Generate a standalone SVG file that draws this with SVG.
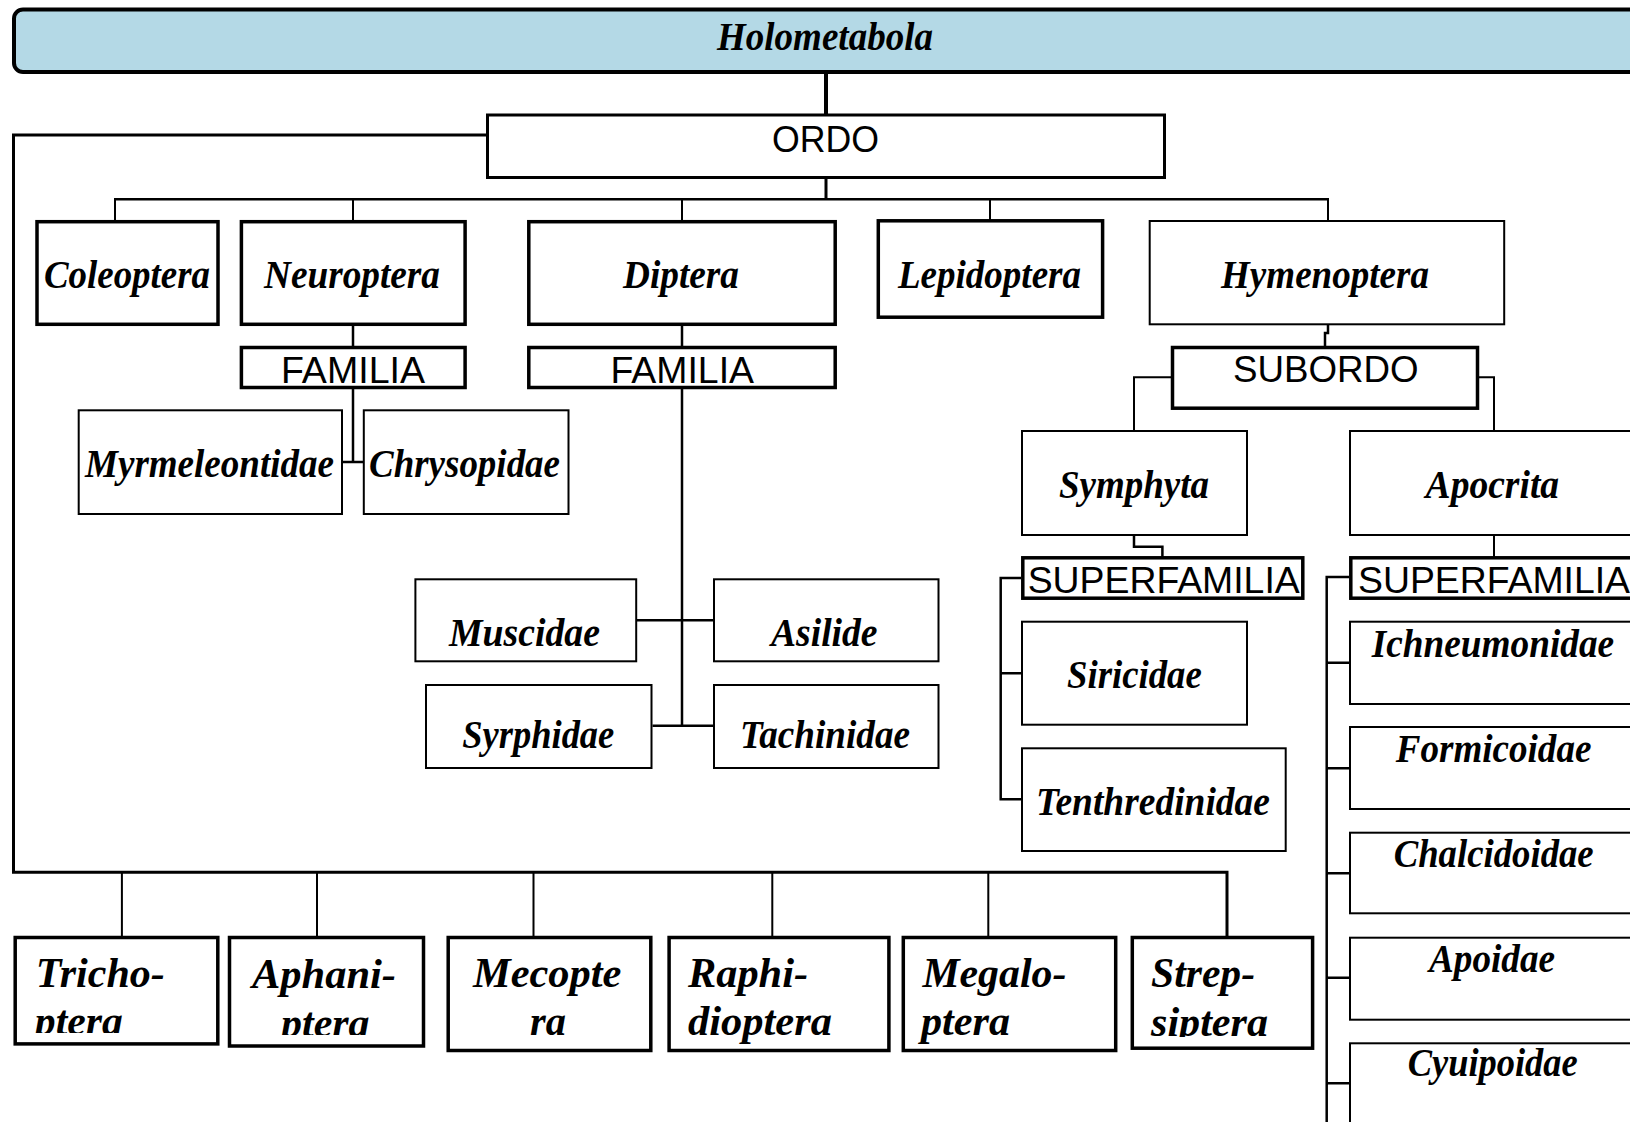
<svg xmlns="http://www.w3.org/2000/svg" width="1630" height="1122" viewBox="0 0 1630 1122">
<style>
.thick{fill:#fff;stroke:#000;stroke-width:3.5}
.mid{fill:#fff;stroke:#000;stroke-width:3}
.thin{fill:#fff;stroke:#000;stroke-width:2}
.lbl{font-family:"Liberation Serif","Times New Roman",serif;font-weight:bold;font-style:italic;font-size:39px;fill:#000}
.big{font-size:42px}
.sans{font-family:"Liberation Sans",Arial,sans-serif;font-size:36px;fill:#000}
.conn{fill:none;stroke:#000;stroke-width:2.5}
.cthin{fill:none;stroke:#000;stroke-width:2}
</style>
<defs>
<clipPath id="clipTricho"><rect x="15" y="937" width="203" height="96"/></clipPath>
<clipPath id="clipAphani"><rect x="229" y="937" width="194" height="98"/></clipPath>
<clipPath id="clipStrep"><rect x="1132" y="937" width="180" height="100"/></clipPath>
</defs>

<g id="connectors">
<line x1="826" y1="72" x2="826" y2="115" stroke="#000" stroke-width="4"/>
<line x1="826" y1="178" x2="826" y2="200" stroke="#000" stroke-width="3"/>
<line x1="114" y1="199.3" x2="1329" y2="199.3" class="conn"/>
<path class="cthin" d="M115,199 V221 M353,199 V221 M682,199 V221 M990,199 V221 M1328,199 V221"/>
<path class="conn" d="M353,325 V347 M353,389 V462 M343,462 H363"/>
<path class="conn" d="M682,325 V347 M682,389 V725.7 M637,620.3 H713 M652.5,725.7 H713"/>
<path class="conn" d="M1328,324 V333 H1325 V347"/>
<path class="cthin" d="M1171,377.3 H1134 V431 M1479,377.3 H1494 V431"/>
<path class="conn" d="M1134,535 V546.7 H1162.4 V557"/>
<path class="cthin" d="M1494,535 V557"/>
<path class="conn" d="M1021,578 H1000.7 V799.3 H1022 M1000.7,673.3 H1022"/>
<path class="conn" d="M1349,577 H1326.7 V1130 M1326.7,662.7 H1350 M1326.7,768.3 H1350 M1326.7,873.3 H1350 M1326.7,977.7 H1350 M1326.7,1083.3 H1350"/>
<path class="mid" style="fill:none" d="M487,135 H13.5 V872.3 H1227 V937"/>
<path class="cthin" d="M121.9,872 V937 M317,872 V937 M533.5,872 V937 M772.3,872 V937 M988.3,872 V937"/>
</g>

<g id="holometabola">
<rect x="14" y="9.5" width="1650" height="62.5" rx="9" fill="#b4d9e6" stroke="#000" stroke-width="4"/>
<text class="lbl" x="717" y="50" font-size="37" textLength="216" lengthAdjust="spacingAndGlyphs">Holometabola</text>
</g>

<g id="ordo">
<rect class="mid" x="487.5" y="115" width="677" height="62.5"/>
<text class="sans" x="772" y="152" font-size="35" textLength="107" lengthAdjust="spacingAndGlyphs">ORDO</text>
</g>

<g id="coleoptera">
<rect class="thick" x="37" y="221.7" width="181" height="102.6"/>
<text class="lbl" x="44" y="288" textLength="166" lengthAdjust="spacingAndGlyphs">Coleoptera</text>
</g>
<g id="neuroptera">
<rect class="thick" x="241.4" y="221.7" width="223.7" height="102.6"/>
<text class="lbl" x="264" y="288" textLength="176" lengthAdjust="spacingAndGlyphs">Neuroptera</text>
</g>
<g id="diptera">
<rect class="thick" x="528.8" y="221.7" width="306.4" height="102.6"/>
<text class="lbl" x="623" y="288" textLength="116" lengthAdjust="spacingAndGlyphs">Diptera</text>
</g>
<g id="lepidoptera">
<rect class="thick" x="878.3" y="220.8" width="224.3" height="96.4"/>
<text class="lbl" x="898" y="288" textLength="183" lengthAdjust="spacingAndGlyphs">Lepidoptera</text>
</g>
<g id="hymenoptera">
<rect class="thin" x="1149.7" y="221" width="354.5" height="103.3"/>
<text class="lbl" x="1221" y="288" textLength="208" lengthAdjust="spacingAndGlyphs">Hymenoptera</text>
</g>

<g id="familia-neuroptera">
<rect class="thick" x="241.4" y="347.5" width="223.7" height="40"/>
<text class="sans" x="281" y="383.3" textLength="144" lengthAdjust="spacingAndGlyphs">FAMILIA</text>
</g>
<g id="familia-diptera">
<rect class="thick" x="528.8" y="347.5" width="306.4" height="40"/>
<text class="sans" x="610.5" y="383.3" textLength="143.5" lengthAdjust="spacingAndGlyphs">FAMILIA</text>
</g>

<g id="myrmeleontidae">
<rect class="thin" x="78.7" y="410.3" width="263.3" height="103.7"/>
<text class="lbl" x="85" y="476.7" textLength="249" lengthAdjust="spacingAndGlyphs">Myrmeleontidae</text>
</g>
<g id="chrysopidae">
<rect class="thin" x="363.8" y="410.3" width="204.7" height="103.7"/>
<text class="lbl" x="369" y="476.7" textLength="191" lengthAdjust="spacingAndGlyphs">Chrysopidae</text>
</g>

<g id="muscidae">
<rect class="thin" x="415.4" y="579.3" width="220.8" height="82"/>
<text class="lbl" x="449" y="646" textLength="151" lengthAdjust="spacingAndGlyphs">Muscidae</text>
</g>
<g id="asilide">
<rect class="thin" x="714" y="579.3" width="224.5" height="82"/>
<text class="lbl" x="771" y="646" textLength="106.5" lengthAdjust="spacingAndGlyphs">Asilide</text>
</g>
<g id="syrphidae">
<rect class="thin" x="426" y="685" width="225.5" height="83"/>
<text class="lbl" x="462.3" y="748.3" textLength="152" lengthAdjust="spacingAndGlyphs">Syrphidae</text>
</g>
<g id="tachinidae">
<rect class="thin" x="714" y="685" width="224.5" height="83"/>
<text class="lbl" x="740" y="748.3" textLength="170" lengthAdjust="spacingAndGlyphs">Tachinidae</text>
</g>

<g id="subordo">
<rect class="thick" x="1172.5" y="347.5" width="305" height="60.7"/>
<text class="sans" x="1233" y="381.7" textLength="185.5" lengthAdjust="spacingAndGlyphs">SUBORDO</text>
</g>

<g id="symphyta">
<rect class="thin" x="1022" y="431" width="225" height="104"/>
<text class="lbl" x="1059" y="497.7" textLength="150" lengthAdjust="spacingAndGlyphs">Symphyta</text>
</g>
<g id="apocrita">
<rect class="thin" x="1350" y="431" width="320" height="104"/>
<text class="lbl" x="1425.6" y="497.7" textLength="133.5" lengthAdjust="spacingAndGlyphs">Apocrita</text>
</g>

<g id="superfamilia-symphyta">
<rect class="thick" x="1022.8" y="557.8" width="280" height="40.4"/>
<text class="sans" x="1027.7" y="592.7" textLength="272" lengthAdjust="spacingAndGlyphs">SUPERFAMILIA</text>
</g>
<g id="superfamilia-apocrita">
<rect class="thick" x="1350.8" y="557.8" width="320" height="40.4"/>
<text class="sans" x="1358" y="592.7" textLength="272" lengthAdjust="spacingAndGlyphs">SUPERFAMILIA</text>
</g>

<g id="siricidae">
<rect class="thin" x="1022" y="621.7" width="225" height="103"/>
<text class="lbl" x="1067" y="688.3" textLength="134.7" lengthAdjust="spacingAndGlyphs">Siricidae</text>
</g>
<g id="tenthredinidae">
<rect class="thin" x="1022" y="748.3" width="263.7" height="102.7"/>
<text class="lbl" x="1036" y="815" textLength="234" lengthAdjust="spacingAndGlyphs">Tenthredinidae</text>
</g>

<g id="ichneumonidae">
<rect class="thin" x="1350" y="621.7" width="320" height="82.3"/>
<text class="lbl" x="1371.7" y="656.7" textLength="242.5" lengthAdjust="spacingAndGlyphs">Ichneumonidae</text>
</g>
<g id="formicoidae">
<rect class="thin" x="1350" y="727" width="320" height="82"/>
<text class="lbl" x="1395.7" y="762.3" textLength="195.7" lengthAdjust="spacingAndGlyphs">Formicoidae</text>
</g>
<g id="chalcidoidae">
<rect class="thin" x="1350" y="832.7" width="320" height="80.6"/>
<text class="lbl" x="1393.7" y="866.7" textLength="200" lengthAdjust="spacingAndGlyphs">Chalcidoidae</text>
</g>
<g id="apoidae">
<rect class="thin" x="1350" y="937.7" width="320" height="82"/>
<text class="lbl" x="1429" y="971.7" textLength="126" lengthAdjust="spacingAndGlyphs">Apoidae</text>
</g>
<g id="cyuipoidae">
<rect class="thin" x="1350" y="1043.3" width="320" height="120"/>
<text class="lbl" x="1407.7" y="1075.7" textLength="170" lengthAdjust="spacingAndGlyphs">Cyuipoidae</text>
</g>

<g id="trichoptera">
<rect class="thick" x="15.2" y="937.5" width="202.6" height="106.4"/>
<g clip-path="url(#clipTricho)">
<text class="lbl big" x="35.7" y="987" textLength="129" lengthAdjust="spacingAndGlyphs">Tricho-</text>
<text class="lbl big" x="34.8" y="1035" textLength="88" lengthAdjust="spacingAndGlyphs">ptera</text>
</g>
</g>
<g id="aphaniptera">
<rect class="thick" x="229.5" y="937.5" width="194" height="108.5"/>
<g clip-path="url(#clipAphani)">
<text class="lbl big" x="252" y="988.3" textLength="144" lengthAdjust="spacingAndGlyphs">Aphani-</text>
<text class="lbl big" x="281" y="1037" textLength="88.6" lengthAdjust="spacingAndGlyphs">ptera</text>
</g>
</g>
<g id="mecoptera">
<rect class="thick" x="448.2" y="937.5" width="202.6" height="113"/>
<text class="lbl big" x="473" y="987.3" textLength="148.4" lengthAdjust="spacingAndGlyphs">Mecopte</text>
<text class="lbl big" x="530" y="1035" textLength="36" lengthAdjust="spacingAndGlyphs">ra</text>
</g>
<g id="raphidioptera">
<rect class="thick" x="669.1" y="937.5" width="219.8" height="113"/>
<text class="lbl big" x="688" y="986.7" textLength="120" lengthAdjust="spacingAndGlyphs">Raphi-</text>
<text class="lbl big" x="688" y="1035" textLength="144" lengthAdjust="spacingAndGlyphs">dioptera</text>
</g>
<g id="megaloptera">
<rect class="thick" x="903.3" y="937.5" width="212.4" height="113"/>
<text class="lbl big" x="922.4" y="986.7" textLength="144" lengthAdjust="spacingAndGlyphs">Megalo-</text>
<text class="lbl big" x="921" y="1035" textLength="89" lengthAdjust="spacingAndGlyphs">ptera</text>
</g>
<g id="strepsiptera">
<rect class="thick" x="1132.3" y="937.5" width="180.3" height="110.7"/>
<g clip-path="url(#clipStrep)">
<text class="lbl big" x="1151" y="986.7" textLength="104" lengthAdjust="spacingAndGlyphs">Strep-</text>
<text class="lbl big" x="1151" y="1036" textLength="117" lengthAdjust="spacingAndGlyphs">siptera</text>
</g>
</g>
</svg>
